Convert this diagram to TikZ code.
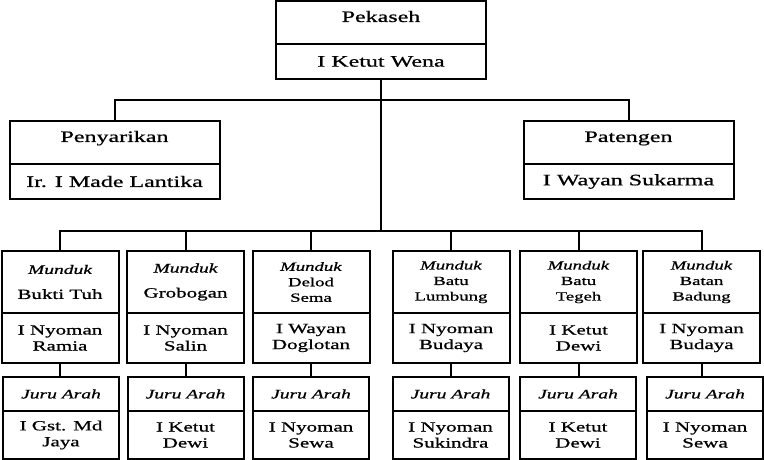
\documentclass[tikz,border=0pt]{standalone}
\usepackage{fontspec}
\setmainfont[FakeStretch = 1.5, FakeBold = 0.8]{Liberation Serif}
\usepackage{tikz}

\begin{document}
\begin{tikzpicture}[x = 1pt, y = -1pt,
    box/.style = {draw, line width = 2pt, inner sep = 0pt, align = center},
    headtop/.style = {box, minimum width = 210pt, minimum height = 43pt, text height = 11pt, text depth = 12pt, font = \fontsize{16}{19}\selectfont},
    headname/.style = {box, minimum width = 210pt, minimum height = 35pt, font = \fontsize{16}{19}\selectfont},
    mundtop/.style = {box, minimum width = 117pt, minimum height = 62pt, font = \fontsize{14}{16}\selectfont},
    mundtwo/.style = {mundtop, font = \fontsize{12.5}{15.5}\selectfont},
    mundname/.style = {box, minimum width = 117pt, minimum height = 50pt, font = \fontsize{14}{16}\selectfont},
    jurutop/.style = {box, minimum width = 116pt, minimum height = 34pt, font = \fontsize{13}{15}\selectfont\itshape},
    juruname/.style = {box, minimum width = 116pt, minimum height = 48pt, font = \fontsize{14}{16}\selectfont},
    link/.style = {line width = 2pt}]
    \useasboundingbox (0,0) rectangle (764,460);

    % pekaseh and the two helpers
    \node[headtop] (pekaseh) at (381,22.5) {Pekaseh};
    \node[headname] (pekasehN) at (381,61.5) {I Ketut Wena};
    \node[headtop] (penyarikan) at (114.5,142.5) {Penyarikan};
    \node[headname] (penyarikanN) at (114.5,181.5) {Ir. I Made Lantika};
    \node[headtop] (patengen) at (628.5,142.5) {Patengen};
    \node[headname] (patengenN) at (628.5,181.5) {I Wayan Sukarma};

    \coordinate (bus1) at (381,100);
    \coordinate (bus2) at (381,231);
    \draw[link] (pekasehN.south) -- (bus2);
    \draw[link] (penyarikan.north) |- (bus1) -| (patengen.north);

    % munduk
    \node[mundtop] (m1) at (60,282) {{\fontsize{13}{15}\selectfont\itshape Munduk}\\[9pt]Bukti Tuh};
    \node[mundtop] (m2) at (185.5,282) {{\fontsize{13}{15}\selectfont\itshape Munduk}\\[9pt]Grobogan};
    \node[mundtwo] (m3) at (311,282) {\textit{Munduk}\\Delod\\Sema};
    \node[mundtwo] (m4) at (451,282) {\textit{Munduk}\\Batu\\Lumbung};
    \node[mundtwo] (m5) at (578.5,282) {\textit{Munduk}\\Batu\\Tegeh};
    \node[mundtwo] (m6) at (701.5,282) {\textit{Munduk}\\Batan\\Badung};

    \node[mundname] (m1N) at (60,338) {I Nyoman\\Ramia};
    \node[mundname] (m2N) at (185.5,338) {I Nyoman\\Salin};
    \node[mundname] (m3N) at (311,338) {I Wayan\\Doglotan};
    \node[mundname] (m4N) at (451,338) {I Nyoman\\Budaya};
    \node[mundname] (m5N) at (578.5,338) {I Ketut\\Dewi};
    \node[mundname] (m6N) at (701.5,338) {I Nyoman\\Budaya};

    \draw[link] (m1.north) |- (bus2) -| (m6.north);
    \draw[link] (m2.north) -- (m2.north |- bus2);
    \draw[link] (m3.north) -- (m3.north |- bus2);
    \draw[link] (m4.north) -- (m4.north |- bus2);
    \draw[link] (m5.north) -- (m5.north |- bus2);

    % juru arah
    \node[jurutop] (j1) at (61,394) {Juru Arah};
    \node[jurutop] (j2) at (185.5,394) {Juru Arah};
    \node[jurutop] (j3) at (311,394) {Juru Arah};
    \node[jurutop] (j4) at (450.5,394) {Juru Arah};
    \node[jurutop] (j5) at (578,394) {Juru Arah};
    \node[jurutop] (j6) at (705,394) {Juru Arah};

    \node[juruname] (j1N) at (61,435) {I Gst. Md\\Jaya};
    \node[juruname] (j2N) at (185.5,435) {I Ketut\\Dewi};
    \node[juruname] (j3N) at (311,435) {I Nyoman\\Sewa};
    \node[juruname] (j4N) at (450.5,435) {I Nyoman\\Sukindra};
    \node[juruname] (j5N) at (578,435) {I Ketut\\Dewi};
    \node[juruname] (j6N) at (705,435) {I Nyoman\\Sewa};

    \draw[link] (m1N.south) -- (m1N.south |- j1.north);
    \draw[link] (m2N.south) -- (m2N.south |- j2.north);
    \draw[link] (m3N.south) -- (m3N.south |- j3.north);
    \draw[link] (m4N.south) -- (m4N.south |- j4.north);
    \draw[link] (m5N.south) -- (m5N.south |- j5.north);
    \draw[link] (m6N.south) -- (m6N.south |- j6.north);
\end{tikzpicture}
\end{document}
